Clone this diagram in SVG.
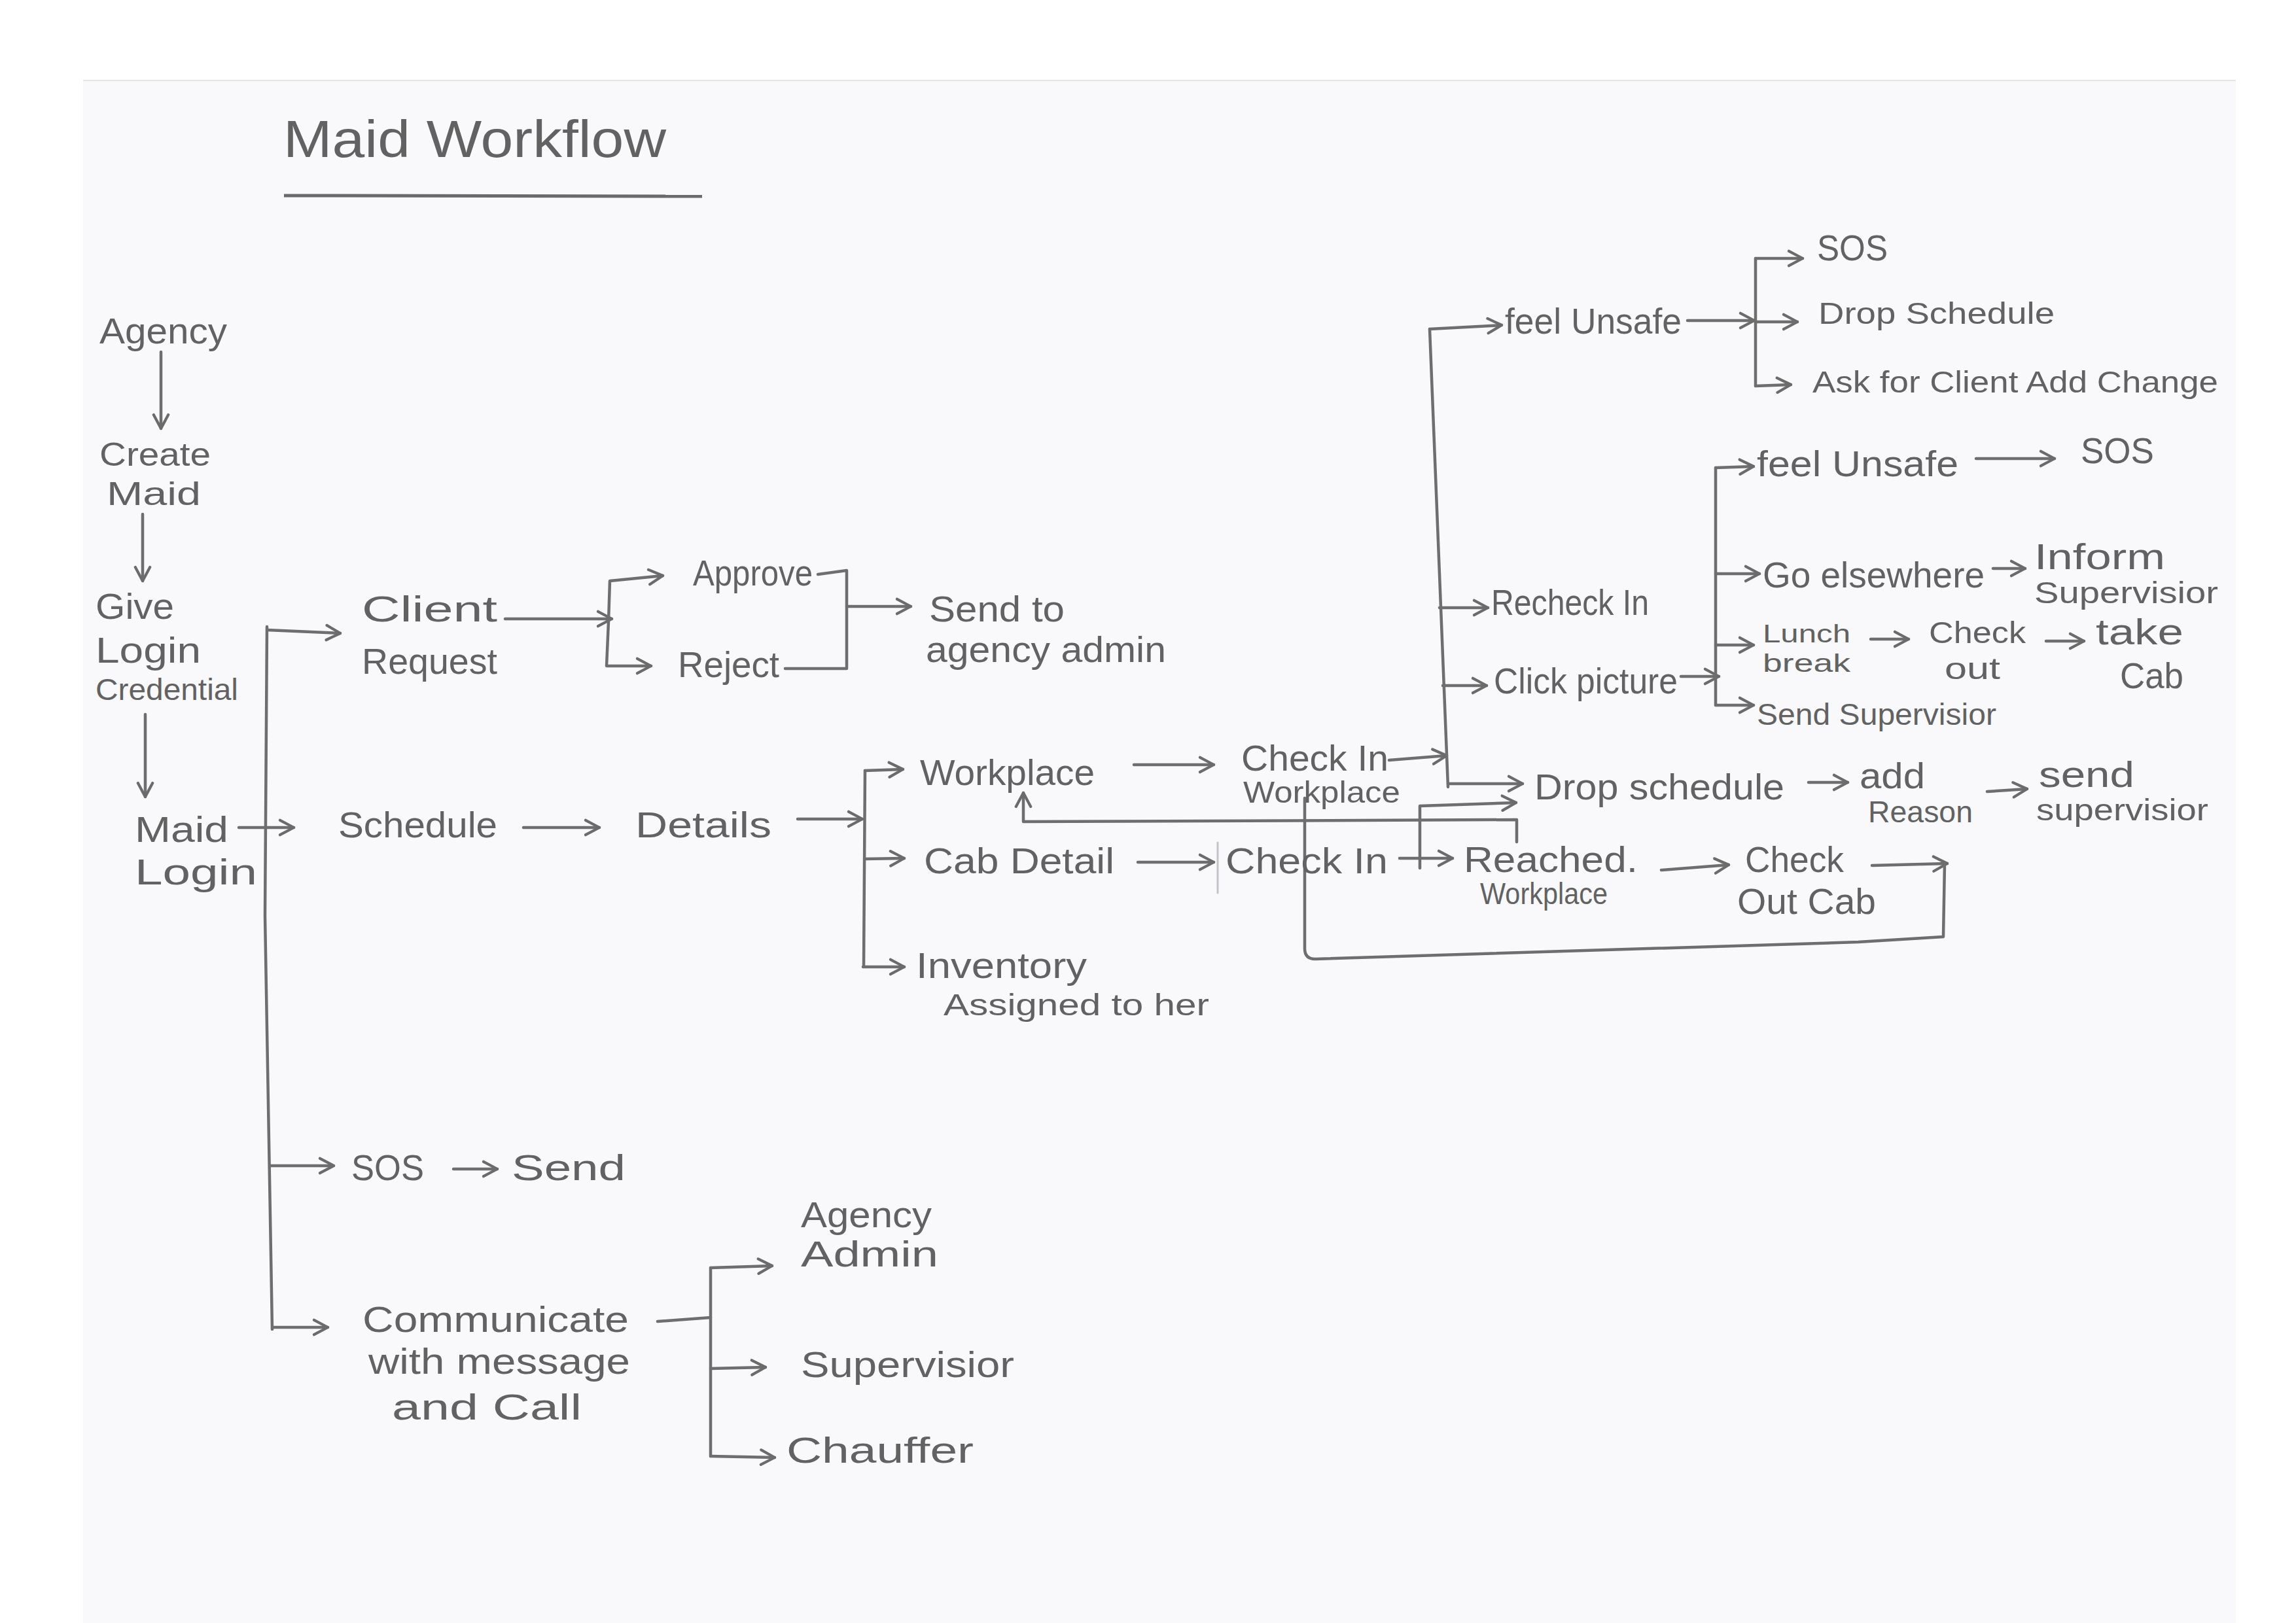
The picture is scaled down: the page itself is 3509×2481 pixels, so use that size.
<svg xmlns="http://www.w3.org/2000/svg" width="3509" height="2481" viewBox="0 0 3509 2481">
<defs>
<marker id="ah" viewBox="0 0 20 20" refX="18" refY="10" markerWidth="28" markerHeight="28" markerUnits="userSpaceOnUse" orient="auto">
<path d="M3,2 L18,10 L3,18" fill="none" stroke="#6b6b6b" stroke-width="3" stroke-linecap="round" stroke-linejoin="round"/>
</marker>
</defs>
<style>
text{font-family:"Liberation Sans","DejaVu Sans",sans-serif;font-size:56px;fill:#626262}
.s{font-size:46px}
.xs{font-size:38px}
.m{font-size:50px}
.t{font-size:80px}
.c path,.c line{fill:none;stroke:#6e6e6e;stroke-width:4.5;stroke-linecap:round;stroke-linejoin:round}
.c .a{marker-end:url(#ah)}
.c .f{stroke:#c4c4c8;stroke-width:3}
</style>
<rect x="0" y="0" width="3509" height="2481" fill="#ffffff"/>
<rect x="127" y="123" width="3290" height="2358" fill="#f9f9fb"/>
<line x1="127" y1="123" x2="3417" y2="123" stroke="#e6e6df" stroke-width="2"/>

<g id="title">
<text class="t" x="433" y="240" textLength="585" lengthAdjust="spacingAndGlyphs">Maid Workflow</text>
<line x1="434" y1="299" x2="1073" y2="300" stroke="#6a6a6a" stroke-width="5"/>
</g>

<g class="c" id="connectors">
<path class="a" d="M246 538 L246 655"/>
<path class="a" d="M218 786 L218 888"/>
<path class="a" d="M222 1092 L222 1218"/>
<path d="M408 958 L405 1400 L416 2032"/>
<path class="a" d="M408 963 L520 968"/>
<path class="a" d="M365 1265 L449 1265"/>
<path class="a" d="M412 1782 L510 1782"/>
<path class="a" d="M416 2029 L501 2029"/>
<path class="a" d="M772 946 L935 946"/>
<path class="a" d="M930 950 L932 888 L1013 880"/>
<path class="a" d="M930 950 L927 1018 L995 1018"/>
<path d="M1250 878 L1294 872 L1294 1022 L1200 1022"/>
<path class="a" d="M1294 927 L1392 927"/>
<path class="a" d="M800 1265 L916 1265"/>
<path class="a" d="M1219 1252 L1318 1252"/>
<path d="M1322 1178 L1320 1478"/>
<path class="a" d="M1322 1178 L1380 1176"/>
<path class="a" d="M1321 1313 L1382 1312"/>
<path class="a" d="M1319 1478 L1382 1478"/>
<path class="a" d="M1733 1169 L1855 1169"/>
<path class="a" d="M2123 1162 L2211 1155"/>
<path class="a" d="M1739 1318 L1855 1318"/>
<path class="f" d="M1861 1288 L1861 1365"/>
<path class="a" d="M2139 1312 L2220 1312"/>
<path class="a" d="M2539 1330 L2642 1322"/>
<path class="a" d="M2861 1323 L2976 1320"/>
<path d="M2972 1320 L2970 1432 L2840 1440 L2010 1466 Q1994 1466 1994 1450 L1994 1220"/>
<path class="a" d="M2318 1287 L2318 1253 L1564 1256 L1564 1212"/>
<path class="a" d="M2170 1327 L2170 1232 L2317 1227"/>
<path d="M2185 503 L2213 1203"/>
<path class="a" d="M2213 1198 L2327 1198"/>
<path class="a" d="M2185 503 L2295 497"/>
<path class="a" d="M2200 929 L2274 929"/>
<path class="a" d="M2205 1048 L2272 1048"/>
<path class="a" d="M2579 490 L2681 490"/>
<path d="M2683 395 L2683 590"/>
<path class="a" d="M2683 395 L2755 395"/>
<path class="a" d="M2683 492 L2747 492"/>
<path class="a" d="M2683 590 L2737 588"/>
<path class="a" d="M2569 1034 L2627 1034"/>
<path d="M2622 715 L2622 1078"/>
<path class="a" d="M2622 715 L2680 713"/>
<path class="a" d="M3020 701 L3140 701"/>
<path class="a" d="M2622 877 L2689 877"/>
<path class="a" d="M3046 869 L3095 869"/>
<path class="a" d="M2622 986 L2680 986"/>
<path class="a" d="M2859 977 L2917 977"/>
<path class="a" d="M3127 980 L3185 980"/>
<path class="a" d="M2622 1078 L2680 1078"/>
<path class="a" d="M2764 1196 L2824 1196"/>
<path class="a" d="M3037 1210 L3098 1206"/>
<path class="a" d="M693 1787 L760 1787"/>
<path d="M1005 2020 L1086 2014"/>
<path d="M1086 1938 L1086 2226"/>
<path class="a" d="M1086 1938 L1180 1935"/>
<path class="a" d="M1086 2092 L1170 2090"/>
<path class="a" d="M1086 2226 L1184 2228"/>
</g>

<g id="agency"><text x="152" y="525" textLength="195" lengthAdjust="spacingAndGlyphs">Agency</text></g>
<g id="create-maid"><text class="m" x="152" y="712" textLength="170" lengthAdjust="spacingAndGlyphs">Create</text><text class="m" x="163" y="772" textLength="144" lengthAdjust="spacingAndGlyphs">Maid</text></g>
<g id="give-login"><text x="146" y="946" textLength="120" lengthAdjust="spacingAndGlyphs">Give</text><text x="146" y="1013" textLength="161" lengthAdjust="spacingAndGlyphs">Login</text><text class="s" x="146" y="1070" textLength="218" lengthAdjust="spacingAndGlyphs">Credential</text></g>
<g id="maid-login"><text x="206" y="1287" textLength="143" lengthAdjust="spacingAndGlyphs">Maid</text><text x="206" y="1352" textLength="187" lengthAdjust="spacingAndGlyphs">Login</text></g>

<g id="client-request"><text x="553" y="950" textLength="207" lengthAdjust="spacingAndGlyphs">Client</text><text x="553" y="1030" textLength="207" lengthAdjust="spacingAndGlyphs">Request</text></g>
<g id="approve"><text x="1059" y="895" textLength="183" lengthAdjust="spacingAndGlyphs">Approve</text></g>
<g id="reject"><text x="1036" y="1035" textLength="155" lengthAdjust="spacingAndGlyphs">Reject</text></g>
<g id="send-agency-admin"><text x="1420" y="950" textLength="207" lengthAdjust="spacingAndGlyphs">Send to</text><text x="1415" y="1012" textLength="367" lengthAdjust="spacingAndGlyphs">agency admin</text></g>

<g id="schedule"><text x="517" y="1280" textLength="243" lengthAdjust="spacingAndGlyphs">Schedule</text></g>
<g id="details"><text x="971" y="1280" textLength="208" lengthAdjust="spacingAndGlyphs">Details</text></g>
<g id="workplace"><text x="1406" y="1200" textLength="267" lengthAdjust="spacingAndGlyphs">Workplace</text></g>
<g id="checkin-workplace"><text x="1897" y="1178" textLength="225" lengthAdjust="spacingAndGlyphs">Check In</text><text class="s" x="1900" y="1227" textLength="240" lengthAdjust="spacingAndGlyphs">Workplace</text></g>
<g id="cab-detail"><text x="1412" y="1335" textLength="291" lengthAdjust="spacingAndGlyphs">Cab Detail</text></g>
<g id="check-in"><text x="1873" y="1335" textLength="248" lengthAdjust="spacingAndGlyphs">Check In</text></g>
<g id="reached-workplace"><text x="2237" y="1333" textLength="266" lengthAdjust="spacingAndGlyphs">Reached.</text><text class="s" x="2262" y="1382" textLength="195" lengthAdjust="spacingAndGlyphs">Workplace</text></g>
<g id="check-out-cab"><text x="2667" y="1333" textLength="151" lengthAdjust="spacingAndGlyphs">Check</text><text x="2655" y="1397" textLength="212" lengthAdjust="spacingAndGlyphs">Out Cab</text></g>
<g id="inventory"><text x="1400" y="1495" textLength="261" lengthAdjust="spacingAndGlyphs">Inventory</text><text class="s" x="1442" y="1552" textLength="406" lengthAdjust="spacingAndGlyphs">Assigned to her</text></g>

<g id="feel-unsafe-1"><text x="2300" y="510" textLength="270" lengthAdjust="spacingAndGlyphs">feel Unsafe</text></g>
<g id="sos-1"><text x="2777" y="398" textLength="108" lengthAdjust="spacingAndGlyphs">SOS</text></g>
<g id="drop-schedule-1"><text class="s" x="2779" y="495" textLength="361" lengthAdjust="spacingAndGlyphs">Drop Schedule</text></g>
<g id="ask-client"><text class="s" x="2770" y="600" textLength="620" lengthAdjust="spacingAndGlyphs">Ask for Client Add Change</text></g>
<g id="recheck-in"><text x="2279" y="940" textLength="241" lengthAdjust="spacingAndGlyphs">Recheck In</text></g>
<g id="click-picture"><text x="2283" y="1060" textLength="281" lengthAdjust="spacingAndGlyphs">Click picture</text></g>
<g id="feel-unsafe-2"><text x="2685" y="728" textLength="308" lengthAdjust="spacingAndGlyphs">feel Unsafe</text></g>
<g id="sos-2"><text x="3180" y="708" textLength="112" lengthAdjust="spacingAndGlyphs">SOS</text></g>
<g id="go-elsewhere"><text x="2694" y="898" textLength="339" lengthAdjust="spacingAndGlyphs">Go elsewhere</text></g>
<g id="inform-supervisior"><text x="3109" y="870" textLength="200" lengthAdjust="spacingAndGlyphs">Inform</text><text class="s" x="3109" y="922" textLength="281" lengthAdjust="spacingAndGlyphs">Supervisior</text></g>
<g id="lunch-break"><text class="xs" x="2694" y="982" textLength="134" lengthAdjust="spacingAndGlyphs">Lunch</text><text class="xs" x="2694" y="1027" textLength="134" lengthAdjust="spacingAndGlyphs">break</text></g>
<g id="check-out"><text class="s" x="2948" y="983" textLength="148" lengthAdjust="spacingAndGlyphs">Check</text><text class="s" x="2972" y="1038" textLength="85" lengthAdjust="spacingAndGlyphs">out</text></g>
<g id="take-cab"><text x="3203" y="985" textLength="134" lengthAdjust="spacingAndGlyphs">take</text><text x="3240" y="1052" textLength="97" lengthAdjust="spacingAndGlyphs">Cab</text></g>
<g id="send-supervisior-1"><text class="s" x="2685" y="1108" textLength="366" lengthAdjust="spacingAndGlyphs">Send Supervisior</text></g>
<g id="drop-schedule-2"><text x="2345" y="1222" textLength="382" lengthAdjust="spacingAndGlyphs">Drop schedule</text></g>
<g id="add-reason"><text x="2842" y="1205" textLength="100" lengthAdjust="spacingAndGlyphs">add</text><text class="s" x="2855" y="1257" textLength="160" lengthAdjust="spacingAndGlyphs">Reason</text></g>
<g id="send-supervisior-2"><text x="3116" y="1203" textLength="146" lengthAdjust="spacingAndGlyphs">send</text><text class="s" x="3112" y="1254" textLength="263" lengthAdjust="spacingAndGlyphs">supervisior</text></g>

<g id="sos"><text x="537" y="1804" textLength="111" lengthAdjust="spacingAndGlyphs">SOS</text></g>
<g id="send"><text x="782" y="1804" textLength="174" lengthAdjust="spacingAndGlyphs">Send</text></g>
<g id="communicate"><text x="554" y="2036" textLength="407" lengthAdjust="spacingAndGlyphs">Communicate</text><text x="563" y="2100" textLength="400" lengthAdjust="spacingAndGlyphs">with message</text><text x="599" y="2170" textLength="290" lengthAdjust="spacingAndGlyphs">and Call</text></g>
<g id="agency-admin"><text x="1224" y="1876" textLength="200" lengthAdjust="spacingAndGlyphs">Agency</text><text x="1224" y="1936" textLength="210" lengthAdjust="spacingAndGlyphs">Admin</text></g>
<g id="supervisior"><text x="1224" y="2105" textLength="326" lengthAdjust="spacingAndGlyphs">Supervisior</text></g>
<g id="chauffer"><text x="1202" y="2236" textLength="286" lengthAdjust="spacingAndGlyphs">Chauffer</text></g>
</svg>
